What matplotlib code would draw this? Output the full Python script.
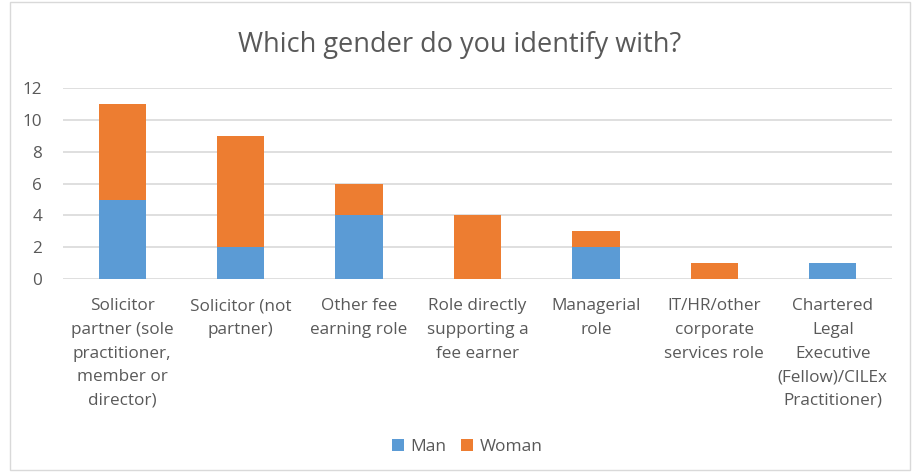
import matplotlib.pyplot as plt
import matplotlib.patches as mpatches
import numpy as np

categories = [
    "Solicitor\npartner (sole\npractitioner,\nmember or\ndirector)",
    "Solicitor (not\npartner)",
    "Other fee\nearning role",
    "Role directly\nsupporting a\nfee earner",
    "Managerial\nrole",
    "IT/HR/other\ncorporate\nservices role",
    "Chartered\nLegal\nExecutive\n(Fellow)/CILEx\nPractitioner)",
]
man = [5, 2, 4, 0, 2, 0, 1]
woman = [6, 7, 2, 4, 1, 1, 0]
yticks = [0, 2, 4, 6, 8, 10, 12]

plt.rcParams['font.family'] = ['Open Sans', 'DejaVu Sans']
grey = '#595959'

fig = plt.figure(figsize=(9.19, 4.74), dpi=100)
ax = fig.add_axes([63 / 919, 1 - 279 / 474, (892 - 63) / 919, (279 - 88.3) / 474])

x = np.arange(len(categories))
ax.bar(x, man, width=0.4, color='#5B9BD5', label='Man', zorder=3)
ax.bar(x, woman, width=0.4, bottom=man, color='#ED7D31', label='Woman', zorder=3)

ax.set_xlim(-0.5, len(categories) - 0.5)
ax.set_ylim(0, 12)
ax.set_yticks(yticks)
ax.yaxis.grid(True, color='#D9D9D9', lw=1.2, zorder=0)
ax.set_xticks(x)
ax.set_xticklabels(categories, fontsize=12.3, color=grey, linespacing=1.63, va='top')
ax.tick_params(axis='y', labelsize=12.3, labelcolor=grey, length=0, pad=15)
ax.tick_params(axis='x', length=0, pad=14)
for s in ax.spines.values():
    s.set_visible(False)

fig.text(460 / 919, 1 - 45 / 474, "Which gender do you identify with?",
         ha='center', va='center', fontsize=19.5, color=grey)

fig.legend(loc='center', bbox_to_anchor=(467 / 919, 1 - 447 / 474), ncol=2,
           frameon=False, fontsize=12.5, labelcolor=grey, handlelength=0.7,
           handleheight=0.7, handletextpad=0.4, columnspacing=0.8)

fig.patches.append(mpatches.Rectangle((10 / 919, 1 - 470 / 474), 900 / 919, 468 / 474,
                                      transform=fig.transFigure, fill=False,
                                      edgecolor='#D9D9D9', lw=1))

fig.savefig('out.png', dpi=100)
